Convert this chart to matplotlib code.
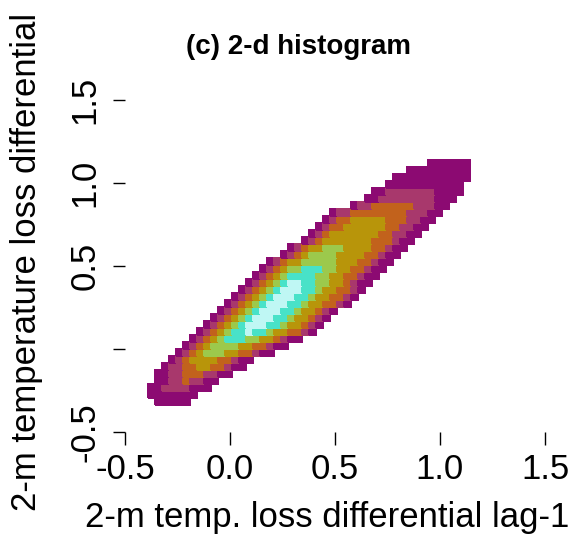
"""Panel (c): 2-d histogram of loss differential vs its lag-1 value."""

import numpy as np
import matplotlib
matplotlib.use('Agg')
from matplotlib import pyplot as plt
from matplotlib.colors import ListedColormap, BoundaryNorm

# histogram bins (data units)
X_START, BIN_W = -0.39, 0.0333
Y_START, BIN_H = -0.337, 0.0422
N_COLS = 46

# count class per bin, one row of bins per entry, bottom row first:
# (first non-empty column, classes from that column on; 0 = empty)
ROWS = [
    (1, "11111"),
    (0, "1111111"),
    (0, "112222111"),
    (1, "112232211"),
    (1, "11223332211"),
    (2, "122334433211"),
    (3, "123444433211"),
    (4, "12345554433211"),
    (5, "123455554433211"),
    (6, "1234566655443211"),
    (7, "12345667665443321"),
    (8, "12345677766544321"),
    (9, "12345677766544321"),
    (10, "12345677766544321"),
    (11, "123456777665443321"),
    (12, "123456777665443321"),
    (13, "123456777665443321"),
    (14, "123456776655443211"),
    (15, "123456666554433211"),
    (16, "123455666554433211"),
    (17, "123445555544433211"),
    (19, "12345555444433211"),
    (20, "12344555444433211"),
    (22, "1234444444333211"),
    (23, "1234444444332211"),
    (24, "1233444444332211"),
    (25, "1233444443332211"),
    (26, "1223333333322211"),
    (29, "12233333322211"),
    (31, "1122222222111"),
    (32, "1122222221111"),
    (34, "11111111111"),
    (35, "11111111111"),
    (37, "111111111"),
    (40, "111111"),
]

CLASS_COLORS = ['#8c0a72', '#a8386c', '#c2621c', '#b8950a',
                '#9cc94c', '#48e2c8', '#bff7f4']

X_TICKS = [-0.5, 0.0, 0.5, 1.0, 1.5]
X_TICK_LABELS = ['-0.5', '0.0', '0.5', '1.0', '1.5']
Y_TICKS = [-0.5, 0.0, 0.5, 1.0, 1.5]
Y_TICK_LABELS = ['-0.5', '', '0.5', '1.0', '1.5']

TITLE = '(c) 2-d histogram'
XLABEL = '2-m temp. loss differential lag-1'
YLABEL = '2-m temperature loss differential'

plt.rcParams['font.family'] = ['Liberation Sans', 'DejaVu Sans']

W, H = 578, 546
fig = plt.figure(figsize=(W / 100, H / 100), dpi=100)
ax = fig.add_axes([125 / W, 1 - 432 / H, 420 / W, 332 / H])

grid = np.zeros((len(ROWS), N_COLS))
for r, (start, s) in enumerate(ROWS):
    grid[r, start:start + len(s)] = [int(ch) for ch in s]
grid = np.ma.masked_equal(grid, 0)

x_edges = X_START + BIN_W * np.arange(N_COLS + 1)
y_edges = Y_START + BIN_H * np.arange(len(ROWS) + 1)
cmap = ListedColormap(CLASS_COLORS)
norm = BoundaryNorm(np.arange(0.5, len(CLASS_COLORS) + 1), cmap.N)
ax.pcolormesh(x_edges, y_edges, grid, cmap=cmap, norm=norm,
              edgecolors='face', linewidth=0.3)

ax.set_xlim(-0.5, 1.5)
ax.set_ylim(-0.5, 1.5)
[s.set_visible(False) for s in ax.spines.values()]
ax.set_xticks(X_TICKS, X_TICK_LABELS)
ax.set_yticks(Y_TICKS, Y_TICK_LABELS, rotation=90, va='center')
ax.tick_params(direction='out', length=9, width=1, labelsize=25, colors='black')
ax.tick_params(axis='x', pad=6)
ax.tick_params(axis='y', pad=8)

fig.text(298 / W, 1 - 47 / H, TITLE, ha='center', va='center',
         fontsize=20, fontweight='bold')
fig.text(327 / W, 1 - 518 / H, XLABEL, ha='center', va='center', fontsize=25)
fig.text(27 / W, 1 - 262 / H, YLABEL, ha='center', va='center',
         fontsize=25, rotation=90)

plt.savefig('out.png', dpi=100)
plt.close()
